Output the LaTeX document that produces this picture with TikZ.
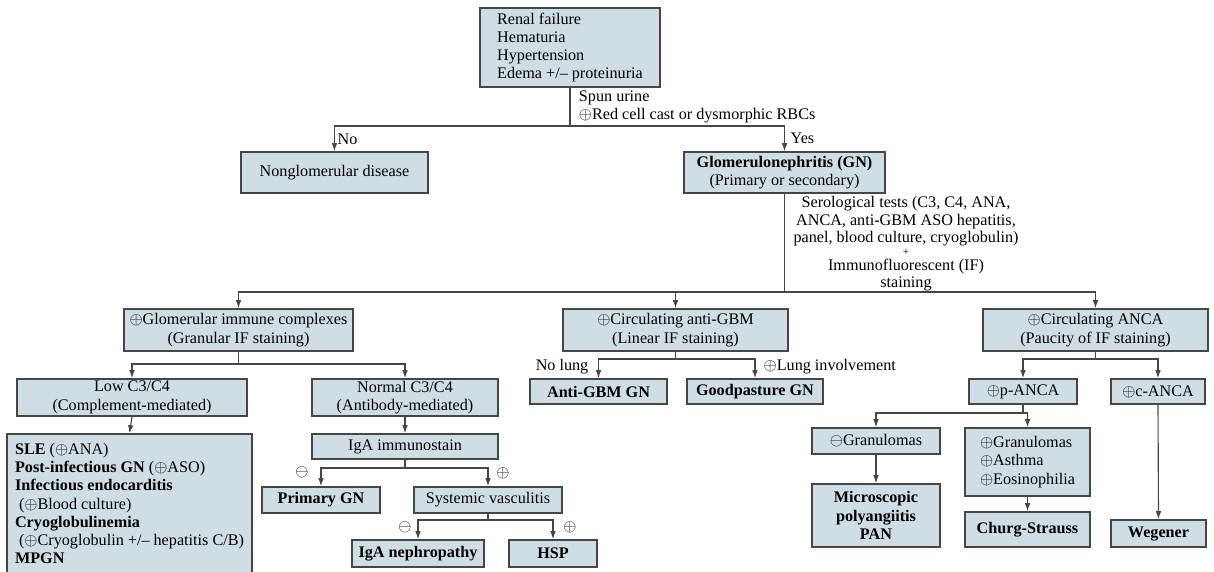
\documentclass[tikz,border=0pt]{standalone}
\usepackage{fontspec}
\setmainfont{Liberation Serif}
\usepackage{xcolor}
\usetikzlibrary{arrows.meta}

\definecolor{boxfill}{RGB}{207,222,228}
\definecolor{boxline}{RGB}{70,70,70}
\definecolor{linecol}{RGB}{70,70,70}
\newcommand{\posmark}{$\oplus$}
\newcommand{\negmark}{$\ominus$}

\begin{document}
\begin{tikzpicture}[x=0.025cm, y=-0.025cm, >={Latex[length=2mm,width=1.4mm]},
  every node/.style={font=\fontsize{11.5}{13}\selectfont},
  box/.style={draw=boxline, fill=boxfill, line width=1.1pt, inner sep=0pt, align=center},
  link/.style={draw=linecol, line width=0.8pt}]
\useasboundingbox (0,0) rectangle (1214,571);

\node[box, align=left, minimum width=4.5cm, minimum height=1.975cm] (sym) at (570,47.5) {Renal failure\\Hematuria\\Hypertension\\Edema +/-- proteinuria};
\node[box, minimum width=4.675cm, minimum height=1.025cm] (nonglom) at (334.5,172.5) {Nonglomerular disease};
\node[box, minimum width=5.025cm, minimum height=1.025cm] (gn) at (784.5,172.5) {\textbf{Glomerulonephritis (GN)}\\(Primary or secondary)};

\node[box, minimum width=5.725cm, minimum height=1.05cm] (gic) at (238.5,330) {\posmark Glomerular immune complexes\\(Granular IF staining)};
\node[box, minimum width=5.625cm, minimum height=1.05cm] (agbm) at (675.5,330) {\posmark Circulating anti-GBM\\(Linear IF staining)};
\node[box, minimum width=5.625cm, minimum height=1.05cm] (anca) at (1095.5,330) {\posmark Circulating ANCA\\(Paucity of IF staining)};

\node[box, minimum width=5.75cm, minimum height=0.925cm] (low) at (132,397.5) {Low C3/C4\\(Complement-mediated)};
\node[box, minimum width=4.65cm, minimum height=0.925cm] (normal) at (405,397.5) {Normal C3/C4\\(Antibody-mediated)};
\node[box, minimum width=3.425cm, minimum height=0.625cm] (agbmgn) at (598.5,391.5) {\textbf{Anti-GBM GN}};
\node[box, minimum width=3.4cm, minimum height=0.625cm] (goodp) at (755,391.5) {\textbf{Goodpasture GN}};
\node[box, minimum width=2.7cm, minimum height=0.625cm] (panca) at (1023,391.5) {\posmark p-ANCA};
\node[box, minimum width=2.35cm, minimum height=0.625cm] (canca) at (1158,391.5) {\posmark c-ANCA};

\node[box, align=left, minimum width=6.125cm, minimum height=3.475cm] (sle) at (129.5,503.5) {\textbf{SLE} (\posmark ANA)\\\textbf{Post-infectious GN} (\posmark ASO)\\\textbf{Infectious endocarditis}\\\hspace*{0.25em}(\posmark Blood culture)\\\textbf{Cryoglobulinemia}\\\hspace*{0.25em}(\posmark Cryoglobulin +/-- hepatitis C/B)\\\textbf{MPGN}};
\node[box, minimum width=4.65cm, minimum height=0.625cm] (igastain) at (405,446.5) {IgA immunostain};
\node[box, minimum width=2.95cm, minimum height=0.65cm] (primgn) at (321,500) {\textbf{Primary GN}};
\node[box, minimum width=3.7cm, minimum height=0.65cm] (sysvas) at (488,500) {Systemic vasculitis};
\node[box, minimum width=3.3cm, minimum height=0.675cm] (iganeph) at (418,553.5) {\textbf{IgA nephropathy}};
\node[box, minimum width=2.2cm, minimum height=0.675cm] (hsp) at (553,553.5) {\textbf{HSP}};

\node[box, minimum width=3.2cm, minimum height=0.65cm] (neggran) at (876,441) {\negmark Granulomas};
\node[box, align=left, minimum width=3.125cm, minimum height=1.7cm] (posgran) at (1027.5,462) {\posmark Granulomas\\\posmark Asthma\\\posmark Eosinophilia};
\node[box, minimum width=3.2cm, minimum height=1.575cm] (mpa) at (876,515.5) {\textbf{Microscopic}\\\textbf{polyangiitis}\\\textbf{PAN}};
\node[box, minimum width=3.125cm, minimum height=0.875cm] (churg) at (1027.5,529.5) {\textbf{Churg-Strauss}};
\node[box, minimum width=2.375cm, minimum height=0.675cm] (wegener) at (1158.5,533.5) {\textbf{Wegener}};

\coordinate (s1) at (570,126);
\coordinate (s2) at (784.5,292);
\coordinate (s3) at (238.5,364);
\coordinate (s4) at (675.5,359);
\coordinate (s5) at (1095.5,359);
\coordinate (s6) at (405,468);
\coordinate (s7) at (488,520);
\coordinate (s8) at (1023,413);

\foreach \a/\b in {sym/s1, gn/s2, gic/s3, agbm/s4, anca/s5, igastain/s6, sysvas/s7, panca/s8}
  \draw[link] (\a.south) -- (\b);
\foreach \a/\b in {s1/nonglom, s1/gn, s2/gic, s2/agbm, s2/anca, s3/low, s3/normal, s4/agbmgn, s4/goodp,
  s5/panca, s5/canca, s6/primgn, s6/sysvas, s7/iganeph, s7/hsp, s8/neggran, s8/posgran}
  \draw[link,->] (\a) -| (\b.north);
\foreach \a/\b in {low/sle, normal/igastain, neggran/mpa, posgran/churg, canca/wegener}
  \draw[link,->] (\a.south) -- (\b.north);

\node[anchor=west, align=left] (urine) at (574,107) {Spun urine\\\posmark Red cell cast or dysmorphic RBCs};
\node[anchor=west, inner sep=1pt] (nolbl) at (336,139) {No};
\node[anchor=west, inner sep=1pt] (yeslbl) at (789,138) {Yes};
\node[align=center, font=\fontsize{11.5}{12.4}\selectfont] (serol) at (906,244) {Serological tests (C3, C4, ANA,\\ANCA, anti-GBM ASO hepatitis,\\panel, blood culture, cryoglobulin)\\[-3pt]{\footnotesize +}\\[-2pt]Immunofluorescent (IF)\\staining};
\node[anchor=east, inner sep=1pt] (nolung) at (590,367) {No lung};
\node[anchor=west, inner sep=1pt] (lung) at (762,367) {\posmark Lung involvement};
\node[inner sep=0pt] (m1) at (302,472) {\negmark};
\node[inner sep=0pt] (p1) at (503,473) {\posmark};
\node[inner sep=0pt] (m2) at (405,527) {\negmark};
\node[inner sep=0pt] (p2) at (570,527) {\posmark};
\end{tikzpicture}
\end{document}
